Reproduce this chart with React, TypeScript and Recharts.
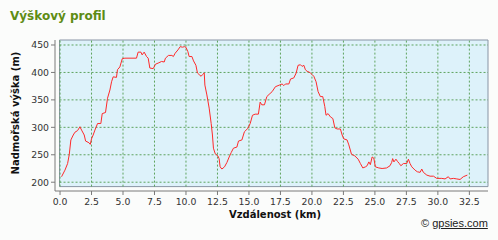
import React from 'react';
import {
  LineChart,
  Line,
  XAxis,
  YAxis,
  ReferenceArea,
  ReferenceLine,
} from 'recharts';

// distance along the track (km) and elevation (m)
const distanceKm = [
  0.12, 0.39, 0.6, 0.73, 0.86, 1.05, 1.18, 1.39, 1.58, 1.71, 1.92, 2.03, 2.29, 2.4, 2.5,
  2.63, 2.77, 2.98, 3.24, 3.35, 3.61, 3.77, 3.96, 4.09, 4.22, 4.48, 4.56, 4.75, 4.94, 5.15,
  6.07, 6.2, 6.42, 6.52, 6.68, 6.87, 7.0, 7.13, 7.4, 7.58, 7.79, 8.06, 8.27, 8.37, 8.61,
  8.88, 9.0, 9.14, 9.36, 9.54, 9.72, 9.88, 9.99, 10.15, 10.25, 10.47, 10.6, 10.79, 10.91,
  11.05, 11.2, 11.31, 11.45, 11.5, 11.66, 11.84, 12.0, 12.1, 12.18, 12.32, 12.53, 12.63,
  12.71, 12.85, 13.06, 13.25, 13.43, 13.59, 13.77, 14.04, 14.17, 14.44, 14.64, 14.91, 15.1,
  15.28, 15.49, 15.75, 15.89, 16.02, 16.23, 16.42, 16.6, 16.84, 17.1, 17.42, 17.63, 17.77,
  17.9, 18.17, 18.3, 18.56, 18.75, 18.9, 19.09, 19.22, 19.36, 19.48, 19.62, 19.75, 19.88,
  20.02, 20.15, 20.33, 20.49, 20.67, 20.86, 21.02, 21.12, 21.28, 21.47, 21.66, 21.82, 22.0,
  22.26, 22.4, 22.53, 22.79, 22.93, 23.14, 23.4, 23.67, 23.85, 24.04, 24.25, 24.38, 24.52,
  24.64, 24.78, 24.91, 25.04, 25.31, 25.57, 25.93, 26.2, 26.33, 26.41, 26.51, 26.67, 26.79,
  26.94, 27.06, 27.26, 27.53, 27.66, 27.79, 27.93, 28.19, 28.37, 28.59, 28.72, 28.85, 29.12,
  29.38, 29.65, 29.91, 30.31, 30.57, 30.83, 30.97, 31.23, 31.5, 31.76, 32.02, 32.34,
];

const elevationM = [
  210, 222, 234, 250, 277, 286, 291, 294, 301, 295, 286, 275, 272, 269, 279,
  286, 295, 307, 307, 325, 327, 353, 368, 383, 392, 391, 405, 410, 425, 426,
  426, 437, 437, 432, 437, 429, 426, 408, 407, 415, 417, 420, 419, 426, 431,
  431, 429, 435, 441, 447, 446, 447, 446, 438, 429, 429, 421, 413, 399,
  396, 393, 396, 399, 377, 359, 335, 307, 286, 262, 252, 248, 243,
  228, 224, 228, 236, 246, 254, 262, 264, 275, 277, 292, 298, 307,
  322, 324, 324, 346, 341, 341, 356, 360, 365, 374, 377, 379, 376,
  379, 379, 388, 390, 399, 413, 414, 411, 413, 405, 402, 401, 399,
  396, 393, 383, 365, 356, 356, 338, 322, 325, 319, 316, 299, 297,
  297, 286, 279, 277, 268, 251, 248, 242, 234, 226, 228, 230, 237,
  232, 246, 244, 228, 226, 225, 226, 230, 236, 243, 237, 242, 238,
  234, 230, 234, 234, 242, 234, 228, 222, 219, 218, 224, 218, 213,
  211, 211, 207, 207, 206, 210, 206, 207, 206, 205, 210, 213,
];

const xTicks = [0, 2.5, 5, 7.5, 10, 12.5, 15, 17.5, 20, 22.5, 25, 27.5, 30, 32.5];
const yTicks = [200, 250, 300, 350, 400, 450];

// axis ranges; the shaded plot box sits a few px inside the axis lines
const X_DOMAIN: [number, number] = [-0.4, 33.98];
const Y_DOMAIN: [number, number] = [184, 459.1];
const BOX_X: [number, number] = [-0.04, 33.98];
const BOX_Y: [number, number] = [192, 459.1];

const data = distanceKm.map((km, i) => ({ km, m: elevationM[i] }));

const FONT = '"DejaVu Sans", Verdana, sans-serif';
const GRID = '#5ea35e';
const AXIS = '#7a7a7a';

export default function App() {
  return (
    <div
      style={{
        position: 'absolute',
        left: 0,
        top: 0,
        width: 498,
        height: 240,
        background: '#fbfcfb',
        fontFamily: FONT,
      }}
    >
      <div
        style={{
          position: 'absolute',
          left: 10,
          top: 9,
          fontSize: 12,
          lineHeight: '14px',
          fontWeight: 'bold',
          color: '#5e8c14',
        }}
      >
        Výškový profil
      </div>

      <LineChart
        width={498}
        height={240}
        data={data}
        margin={{ top: 40, right: 10, left: 0, bottom: 0 }}
      >
        <ReferenceArea
          x1={BOX_X[0]}
          x2={BOX_X[1]}
          y1={BOX_Y[0]}
          y2={BOX_Y[1]}
          fill="#ddf2fa"
          fillOpacity={1}
          stroke="#8894a4"
          strokeWidth={1}
        />
        {xTicks.map((t) => (
          <ReferenceLine
            key={'vx' + t}
            segment={[
              { x: t, y: BOX_Y[0] },
              { x: t, y: BOX_Y[1] },
            ]}
            stroke={GRID}
            strokeDasharray="2 2"
          />
        ))}
        {yTicks.map((t) => (
          <ReferenceLine
            key={'hy' + t}
            segment={[
              { x: BOX_X[0], y: t },
              { x: BOX_X[1], y: t },
            ]}
            stroke={GRID}
            strokeDasharray="2 2"
          />
        ))}
        <XAxis
          type="number"
          dataKey="km"
          domain={X_DOMAIN}
          ticks={xTicks}
          allowDataOverflow
          height={49}
          tickSize={4}
          tickMargin={3}
          stroke={AXIS}
          tick={{ fill: '#333', fontSize: 9.3, fontFamily: FONT }}
          tickFormatter={(v) => v.toFixed(1)}
        />
        <YAxis
          type="number"
          domain={Y_DOMAIN}
          ticks={yTicks}
          allowDataOverflow
          width={55}
          tickSize={4}
          tickMargin={2}
          stroke={AXIS}
          tick={{ fill: '#333', fontSize: 9.3, fontFamily: FONT }}
        />
        <Line
          type="linear"
          dataKey="m"
          stroke="#ff2a2a"
          strokeWidth={1}
          dot={false}
          isAnimationActive={false}
        />
      </LineChart>

      <div
        style={{
          position: 'absolute',
          left: 15,
          top: 113,
          transform: 'translate(-50%, -50%) rotate(-90deg)',
          whiteSpace: 'nowrap',
          fontSize: 10,
          fontWeight: 'bold',
          color: '#111',
        }}
      >
        Nadmořská výška (m)
      </div>
      <div
        style={{
          position: 'absolute',
          left: 275,
          top: 209,
          transform: 'translateX(-50%)',
          whiteSpace: 'nowrap',
          fontSize: 10,
          lineHeight: '12px',
          fontWeight: 'bold',
          color: '#111',
        }}
      >
        Vzdálenost (km)
      </div>
      <div
        style={{
          position: 'absolute',
          left: 421,
          top: 217,
          whiteSpace: 'nowrap',
          fontFamily: '"Liberation Sans", Arial, sans-serif',
          fontSize: 11,
          lineHeight: '13px',
          color: '#222',
        }}
      >
        © <span style={{ textDecoration: 'underline' }}>gpsies.com</span>
      </div>
    </div>
  );
}
